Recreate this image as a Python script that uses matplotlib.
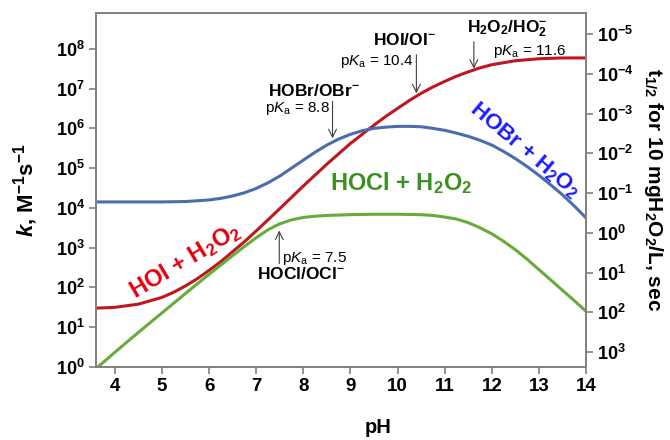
import matplotlib
matplotlib.use('Agg')
import matplotlib.pyplot as plt
import numpy as np

plt.rcParams['font.family'] = ['Liberation Sans', 'DejaVu Sans']
plt.rcParams['mathtext.fontset'] = 'custom'
plt.rcParams['mathtext.rm'] = 'Liberation Sans'
plt.rcParams['mathtext.it'] = 'Liberation Sans:italic'
plt.rcParams['mathtext.bf'] = 'Liberation Sans:bold'
try:
    plt.rcParams['mathtext.bfit'] = 'Liberation Sans:italic:bold'
except KeyError:
    pass

# ---- data (pH, log10 k) ----
ph_red = [3.6, 4.0, 4.5, 5.0, 5.25, 5.5, 5.75, 6.0, 6.25, 6.5, 6.75, 7.0,
          7.5, 8.0, 8.5, 9.0, 9.5, 9.75, 10.0, 10.25, 10.5, 10.75, 11.0,
          11.25, 11.5, 11.75, 12.0, 12.5, 13.0, 13.5, 14.0]
logk_red = [1.48, 1.50, 1.58, 1.75, 1.88, 2.04, 2.22, 2.43, 2.65, 2.9, 3.15,
            3.42, 3.98, 4.55, 5.1, 5.62, 6.08, 6.3, 6.5, 6.7, 6.88, 7.04,
            7.18, 7.31, 7.42, 7.52, 7.6, 7.7, 7.75, 7.77, 7.77]

ph_blue = [3.6, 5.0, 5.5, 5.75, 6.0, 6.25, 6.5, 6.75, 7.0, 7.25, 7.5, 7.75,
           8.0, 8.25, 8.5, 8.75, 9.0, 9.25, 9.5, 9.75, 10.0, 10.25, 10.5,
           10.75, 11.0, 11.25, 11.5, 11.75, 12.0, 12.25, 12.5, 12.75, 13.0,
           13.25, 13.5, 13.75, 14.0]
logk_blue = [4.15, 4.15, 4.16, 4.18, 4.2, 4.24, 4.3, 4.38, 4.49, 4.63, 4.8,
             5.0, 5.2, 5.4, 5.58, 5.73, 5.85, 5.94, 6.0, 6.03, 6.05, 6.05,
             6.04, 6.0, 5.95, 5.88, 5.8, 5.7, 5.58, 5.42, 5.24, 5.04, 4.82,
             4.58, 4.33, 4.05, 3.75]

ph_green = [3.64, 4.0, 4.5, 5.0, 5.5, 6.0, 6.5, 6.75, 7.0, 7.25, 7.5, 7.75,
            8.0, 8.25, 8.5, 9.0, 9.5, 10.0, 10.5, 10.75, 11.0, 11.25, 11.5,
            11.75, 12.0, 12.25, 12.5, 12.75, 13.0, 13.25, 13.5, 13.75, 14.0]
logk_green = [0.0, 0.37, 0.87, 1.36, 1.85, 2.33, 2.8, 3.03, 3.25, 3.45, 3.6,
              3.7, 3.76, 3.79, 3.81, 3.83, 3.84, 3.84, 3.83, 3.81, 3.77, 3.72,
              3.63, 3.5, 3.35, 3.16, 2.95, 2.71, 2.45, 2.19, 1.93, 1.67, 1.4]

# pKa arrows: (x, tail log k, head log k)
arrows = [(8.62, 6.68, 5.75), (10.40, 7.85, 6.88), (11.62, 8.18, 7.50),
          (7.49, 2.60, 3.43)]

C_HALF = 2357.0   # ln2 / [H2O2] for 10 mg/L

RED_L, RED_T = '#c0161d', '#e3000f'
BLUE_L, BLUE_T = '#4a6db0', '#1a1aff'
GREEN_L, GREEN_T = '#6aaa3a', '#3a9020'
GREY = '#808080'

fig = plt.figure(figsize=(6.7, 4.4), dpi=100)
ax = fig.add_axes([96/670, 1 - 367/440, 490/670, 354/440])

ax.plot(ph_red, 10**np.array(logk_red), color=RED_L, lw=2.2)
ax.plot(ph_blue, 10**np.array(logk_blue), color=BLUE_L, lw=2.2)
ax.plot(ph_green, 10**np.array(logk_green), color=GREEN_L, lw=2.2)

ax.set_yscale('log')
ax.set_xlim(3.6, 14)
ax.set_ylim(1, 10**8.9)
ax.set_xticks(range(4, 15))
ax.set_xticklabels([str(v) for v in range(4, 15)], fontsize=13.5, fontweight='bold')
ax.set_yticks([10.0**i for i in range(9)])
ax.set_yticklabels([r'$\mathbf{10^{%d}}$' % i for i in range(9)], fontsize=13)
ax.minorticks_off()

ax2 = ax.twinx()
ax2.set_yscale('log')
ax2.set_ylim(C_HALF / 1.0, C_HALF / 10**8.9)
ax2.set_yticks([10.0**i for i in range(-5, 4)])
ax2.set_yticklabels([r'$\mathbf{10^{%d}}$' % i for i in range(-5, 4)], fontsize=13)
ax2.minorticks_off()

for a in (ax, ax2):
    for s in a.spines.values():
        s.set_color(GREY)
        s.set_linewidth(1.2)
    a.tick_params(direction='out', length=5, width=1.2, color=GREY, pad=3)

ax.set_xlabel('pH', fontsize=14.5, fontweight='bold')
ax.xaxis.set_label_coords(0.576, -0.145)
ax.set_ylabel(r'$\mathbfit{k}$, M$^\mathbf{-1}$s$^\mathbf{-1}$', fontsize=16,
              fontweight='bold')
ax.yaxis.set_label_coords(-0.115, 0.5)
ax2.set_ylabel(r't$_\mathbf{1/2}$ for 10 mgH$_\mathbf{2}$O$_\mathbf{2}$/L, sec',
               fontsize=15, fontweight='bold', rotation=270, va='bottom')
ax2.yaxis.set_label_coords(1.115, 0.5)

# curve labels
ax.text(5.5, 10**2.66, r'HOI + H$_\mathbf{2}$O$_\mathbf{2}$', color=RED_T,
        fontsize=17, fontweight='bold', rotation=31, ha='center', va='center',
        rotation_mode='anchor')
ax.text(12.7, 10**5.45, r'HOBr + H$_\mathbf{2}$O$_\mathbf{2}$', color=BLUE_T,
        fontsize=16, fontweight='bold', rotation=-40, ha='center', va='center',
        rotation_mode='anchor')
ax.text(8.57, 10**4.45, r'HOCl + H$_\mathbf{2}$O$_\mathbf{2}$', color=GREEN_T,
        fontsize=17, fontweight='bold', ha='left', va='baseline')

# pKa annotations
for x, t, h in arrows:
    ax.annotate('', xy=(x, 10**h), xytext=(x, 10**t),
                arrowprops=dict(arrowstyle='->', color='#404040', lw=0.8,
                                mutation_scale=14, shrinkA=0, shrinkB=0))

ax.text(7.26, 10**6.82, r'HOBr/OBr$^\mathbf{-}$', fontsize=12.5,
        fontweight='bold', va='baseline')
ax.text(8.56, 10**6.42, r'p$K_\mathrm{a}$ = 8.8', fontsize=11, ha='right', va='baseline')
ax.text(10.15, 10**8.1, r'HOI/OI$^\mathbf{-}$', fontsize=12.5,
        fontweight='bold', ha='center', va='baseline')
ax.text(10.34, 10**7.6, r'p$K_\mathrm{a}$ = 10.4', fontsize=11, ha='right', va='baseline')
ax.text(11.47, 10**8.42, r'H$_\mathbf{2}$O$_\mathbf{2}$/HO$_\mathbf{2}^\mathbf{-}$',
        fontsize=12.5, fontweight='bold', va='baseline')
ax.text(12.02, 10**7.85, r'p$K_\mathrm{a}$ = 11.6', fontsize=11, va='baseline')
ax.text(7.55, 10**2.65, r'p$K_\mathrm{a}$ = 7.5', fontsize=11, va='baseline')
ax.text(7.02, 10**2.2, r'HOCl/OCl$^\mathbf{-}$', fontsize=12.5,
        fontweight='bold', va='baseline')

fig.savefig('out.png', dpi=100)
